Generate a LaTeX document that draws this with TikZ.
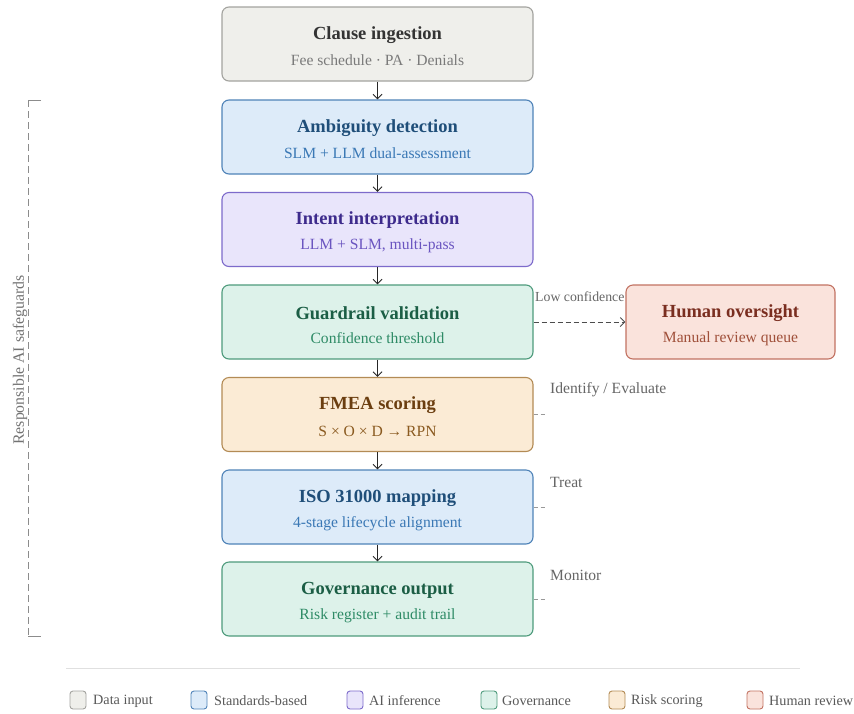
\documentclass[tikz,border=0pt]{standalone}
\usepackage{fontspec}
\setmainfont{Liberation Serif}
\usetikzlibrary{arrows.meta}
\definecolor{grF}{HTML}{EFEFEB}\definecolor{grD}{HTML}{A3A39F}\definecolor{grT}{HTML}{333333}\definecolor{grS}{HTML}{7A7A7A}
\definecolor{blF}{HTML}{DDEBF9}\definecolor{blD}{HTML}{4F83B8}\definecolor{blT}{HTML}{1F4E79}\definecolor{blS}{HTML}{3A78B5}
\definecolor{puF}{HTML}{E9E5FB}\definecolor{puD}{HTML}{7D6BCB}\definecolor{puT}{HTML}{3D2B8C}\definecolor{puS}{HTML}{6A55C0}
\definecolor{gnF}{HTML}{DDF2EA}\definecolor{gnD}{HTML}{4E9B7C}\definecolor{gnT}{HTML}{1B5E45}\definecolor{gnS}{HTML}{2E8B66}
\definecolor{orF}{HTML}{FBEBD5}\definecolor{orD}{HTML}{B38B55}\definecolor{orT}{HTML}{6B3E10}\definecolor{orS}{HTML}{8A5A20}
\definecolor{rdF}{HTML}{FAE3DC}\definecolor{rdD}{HTML}{C27262}\definecolor{rdT}{HTML}{7A2E20}\definecolor{rdS}{HTML}{A0503A}
\definecolor{lblC}{HTML}{666666}
\begin{document}
\begin{tikzpicture}[x=1pt,y=-1pt,
  box/.style={draw, rounded corners=7pt, line width=1.1pt, minimum width=311pt, minimum height=74pt, inner sep=0pt},
  ttl/.style={font=\fontsize{18.5}{21}\selectfont\bfseries, inner sep=0pt},
  sub/.style={font=\fontsize{15.6}{18}\selectfont, inner sep=0pt},
  side/.style={font=\fontsize{15.6}{18}\selectfont, text=lblC, anchor=west, inner sep=0pt},
  flow/.style={-{Straight Barb[length=4.5pt,width=9pt]}, line width=1pt, draw=black!85},
  tick/.style={draw=black!40, dashed, dash pattern=on 4pt off 3pt, line width=0.6pt},
  sw/.style={draw, rounded corners=3pt, line width=0.9pt, minimum width=16pt, minimum height=18pt, inner sep=0pt},
  leg/.style={font=\fontsize{14.2}{17}\selectfont, text=black!65, anchor=west, inner sep=0pt}]
\useasboundingbox (0,0) rectangle (854,713);
\fill[white] (0,0) rectangle (854,713);

% stages
\node[box, fill=grF, draw=grD] (n1) at (377.5,44) {};
\node[ttl, text=grT] (n1t) at ([yshift=9pt]n1.center) {Clause ingestion};
\node[sub, text=grS] (n1s) at ([yshift=-16.5pt]n1.center) {Fee schedule · PA · Denials};

\node[box, fill=blF, draw=blD] (n2) at (377.5,137) {};
\node[ttl, text=blT] (n2t) at ([yshift=9pt]n2.center) {Ambiguity detection};
\node[sub, text=blS] (n2s) at ([yshift=-16.5pt]n2.center) {SLM + LLM dual-assessment};

\node[box, fill=puF, draw=puD] (n3) at (377.5,229.5) {};
\node[ttl, text=puT] (n3t) at ([yshift=9pt]n3.center) {Intent interpretation};
\node[sub, text=puS] (n3s) at ([yshift=-16.5pt]n3.center) {LLM + SLM, multi-pass};

\node[box, fill=gnF, draw=gnD] (n4) at (377.5,322) {};
\node[ttl, text=gnT] (n4t) at ([yshift=9pt]n4.center) {Guardrail validation};
\node[sub, text=gnS] (n4s) at ([yshift=-16.5pt]n4.center) {Confidence threshold};

\node[box, fill=orF, draw=orD] (n5) at (377.5,414.5) {};
\node[ttl, text=orT] (n5t) at ([yshift=9pt]n5.center) {FMEA scoring};
\node[sub, text=orS] (n5s) at ([yshift=-16.5pt]n5.center) {S × O × D → RPN};

\node[box, fill=blF, draw=blD] (n6) at (377.5,507) {};
\node[ttl, text=blT] (n6t) at ([yshift=9pt]n6.center) {ISO 31000 mapping};
\node[sub, text=blS] (n6s) at ([yshift=-16.5pt]n6.center) {4-stage lifecycle alignment};

\node[box, fill=gnF, draw=gnD] (n7) at (377.5,599) {};
\node[ttl, text=gnT] (n7t) at ([yshift=9pt]n7.center) {Governance output};
\node[sub, text=gnS] (n7s) at ([yshift=-16.5pt]n7.center) {Risk register + audit trail};

% human oversight
\node[box, fill=rdF, draw=rdD, minimum width=209pt] (h) at (730.5,322) {};
\node[ttl, text=rdT] (ht) at ([yshift=9pt]h.center) {Human oversight};
\node[sub, text=rdS] (hs) at ([yshift=-16.5pt]h.center) {Manual review queue};

% flow arrows
\draw[flow] (n1) -- (n2);
\draw[flow] (n2) -- (n3);
\draw[flow] (n3) -- (n4);
\draw[flow] (n4) -- (n5);
\draw[flow] (n5) -- (n6);
\draw[flow] (n6) -- (n7);
\draw[flow, dashed, dash pattern=on 5pt off 3pt, draw=black!70] (n4.east) -- (h.west);
\node[font=\fontsize{13.8}{16}\selectfont, text=lblC, anchor=west, inner sep=0pt] (lc) at (535,297) {Low confidence};

% ISO stage ticks and labels
\coordinate (t5) at (545,414.5);
\coordinate (t6) at (545,507);
\coordinate (t7) at (545,599);
\draw[tick] (n5.east) -- (t5);
\draw[tick] (n6.east) -- (t6);
\draw[tick] (n7.east) -- (t7);
\node[side] (s5) at (550,390) {Identify / Evaluate};
\node[side] (s6) at (550,482) {Treat};
\node[side] (s7) at (550,575) {Monitor};

% safeguard bracket
\coordinate (b1) at (41,100);
\coordinate (b2) at (28,100);
\coordinate (b3) at (28,636);
\coordinate (b4) at (41,636);
\draw[draw=black!45, line width=1pt] (b1) -- (b2);
\draw[draw=black!45, line width=1pt] (b3) -- (b4);
\draw[draw=black!45, line width=1pt, dash pattern=on 7pt off 4pt] (b2) -- (b3);
\node[font=\fontsize{15.8}{18}\selectfont, text=black!55, rotate=90, inner sep=0pt] (rl) at (20,360) {Responsible AI safeguards};

% legend
\coordinate (l1) at (66,668);
\coordinate (l2) at (800,668);
\draw[draw=black!12, line width=0.8pt] (l1) -- (l2);
\node[sw, fill=grF, draw=grD] (g1) at (78,700) {};
\node[leg] (g1l) at (93,701) {Data input};
\node[sw, fill=blF, draw=blD] (g2) at (199,700) {};
\node[leg] (g2l) at (214,701) {Standards-based};
\node[sw, fill=puF, draw=puD] (g3) at (355,700) {};
\node[leg] (g3l) at (369,701) {AI inference};
\node[sw, fill=gnF, draw=gnD] (g4) at (489,700) {};
\node[leg] (g4l) at (502,701) {Governance};
\node[sw, fill=orF, draw=orD] (g5) at (617,700) {};
\node[leg] (g5l) at (631,701) {Risk scoring};
\node[sw, fill=rdF, draw=rdD] (g6) at (755,700) {};
\node[leg] (g6l) at (769,701) {Human review};
\end{tikzpicture}
\end{document}
